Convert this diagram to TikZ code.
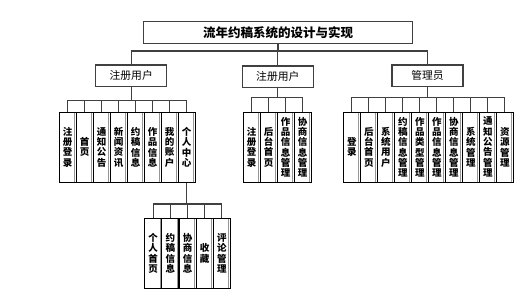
\documentclass[tikz,border=0pt]{standalone}
\usepackage{fontspec}
\newfontfamily\cjk{Noto Sans CJK SC}
\definecolor{linec}{RGB}{64,64,64}
\definecolor{shadec}{RGB}{150,150,150}
\begin{document}
\begin{tikzpicture}[x=1pt,y=-1pt,
  titlebox/.style={draw=linec,line width=1.2pt,minimum width=269.4pt,minimum height=21.6pt,inner sep=0pt,
    font=\cjk\bfseries\fontsize{12.5}{14}\selectfont},
  rolebox/.style={draw=linec,line width=1.2pt,minimum width=71pt,minimum height=21.7pt,inner sep=0pt,
    font=\cjk\fontsize{10.8}{12}\selectfont},
  leafbox/.style={draw=black,line width=0.9pt,minimum width=17pt,minimum height=70.3pt,inner sep=0pt,
    align=center,font=\cjk\bfseries\fontsize{9.5}{10.35}\selectfont,
    path picture={\draw[shadec,line width=0.8pt]
      ([xshift=-1.6pt,yshift=-0.8pt]path picture bounding box.north east) --
      ([xshift=-1.6pt,yshift=0.8pt]path picture bounding box.south east);}},
  conn/.style={draw=linec,line width=1.1pt}]
\useasboundingbox (0,0) rectangle (532,300);
\fill[white] (0,0) rectangle (532,300);
% top
\node[titlebox] (title) at (278,32.5) {流年约稿系统的设计与实现};
\node[rolebox] (A) at (131.2,75.85) {注册用户};
\node[rolebox] (B) at (277.8,76.85) {注册用户};
\node[rolebox] (C) at (427.5,75.85) {管理员};
\coordinate (bus0) at (0,51);
\coordinate (bus1) at (0,100.5);
\coordinate (bus2) at (0,97.5);
\coordinate (bus3) at (0,97.5);
\coordinate (bus4) at (0,204);
% group 1
\foreach \t [count=\i] in {注\\册\\登\\录, 首\\页, 通\\知\\公\\告, 新\\闻\\资\\讯, 约\\稿\\信\\息, 作\\品\\信\\息, 我\\的\\账\\户, 个\\人\\中\\心}
  \node[leafbox] (a\i) at ({67.5+17*(\i-1)},147.15) {\t};
% group 2
\foreach \t [count=\i] in {注\\册\\登\\录, 后\\台\\首\\页, 作\\品\\信\\息\\管\\理, 协\\商\\信\\息\\管\\理}
  \node[leafbox] (b\i) at ({251.5+17*(\i-1)},147.15) {\t};
% group 3
\foreach \t [count=\i] in {登\\录, 后\\台\\首\\页, 系\\统\\用\\户, 约\\稿\\信\\息\\管\\理, 作\\品\\类\\型\\管\\理, 作\\品\\信\\息\\管\\理, 协\\商\\信\\息\\管\\理, 系\\统\\管\\理, 通\\知\\公\\告\\管\\理, 资\\源\\管\\理}
  \node[leafbox] (c\i) at ({351.8+17*(\i-1)},147.15) {\t};
% sub group
\foreach \t [count=\i] in {个\\人\\首\\页, 约\\稿\\信\\息, 协\\商\\信\\息, 收\\藏, 评\\论\\管\\理}
  \node[leafbox] (d\i) at ({153.1+17.2*(\i-1)},253.3) {\t};
% connectors level 1
\draw[conn] (title.south) -- (title.south |- bus0);
\draw[conn] (A.north) |- (C.north |- bus0) -- (C.north);
\draw[conn] (B.north) -- (B.north |- bus0);
% group 1
\draw[conn] (A.south) -- (A.south |- bus1);
\draw[conn] (a1.north) |- (a8.north |- bus1) -- (a8.north);
\foreach \i in {2,...,7} \draw[conn] (a\i.north) -- (a\i.north |- bus1);
% group 2
\draw[conn] (B.south) -- (B.south |- bus2);
\draw[conn] (b1.north) |- (b4.north |- bus2) -- (b4.north);
\foreach \i in {2,3} \draw[conn] (b\i.north) -- (b\i.north |- bus2);
% group 3
\draw[conn] (C.south) -- (C.south |- bus3);
\draw[conn] (c1.north) |- (c10.north |- bus3) -- (c10.north);
\foreach \i in {2,...,9} \draw[conn] (c\i.north) -- (c\i.north |- bus3);
% sub group
\draw[conn] (a8.south) -- (a8.south |- bus4);
\draw[conn] (d1.north) |- (d5.north |- bus4) -- (d5.north);
\foreach \i in {2,3,4} \draw[conn] (d\i.north) -- (d\i.north |- bus4);
\end{tikzpicture}
\end{document}
